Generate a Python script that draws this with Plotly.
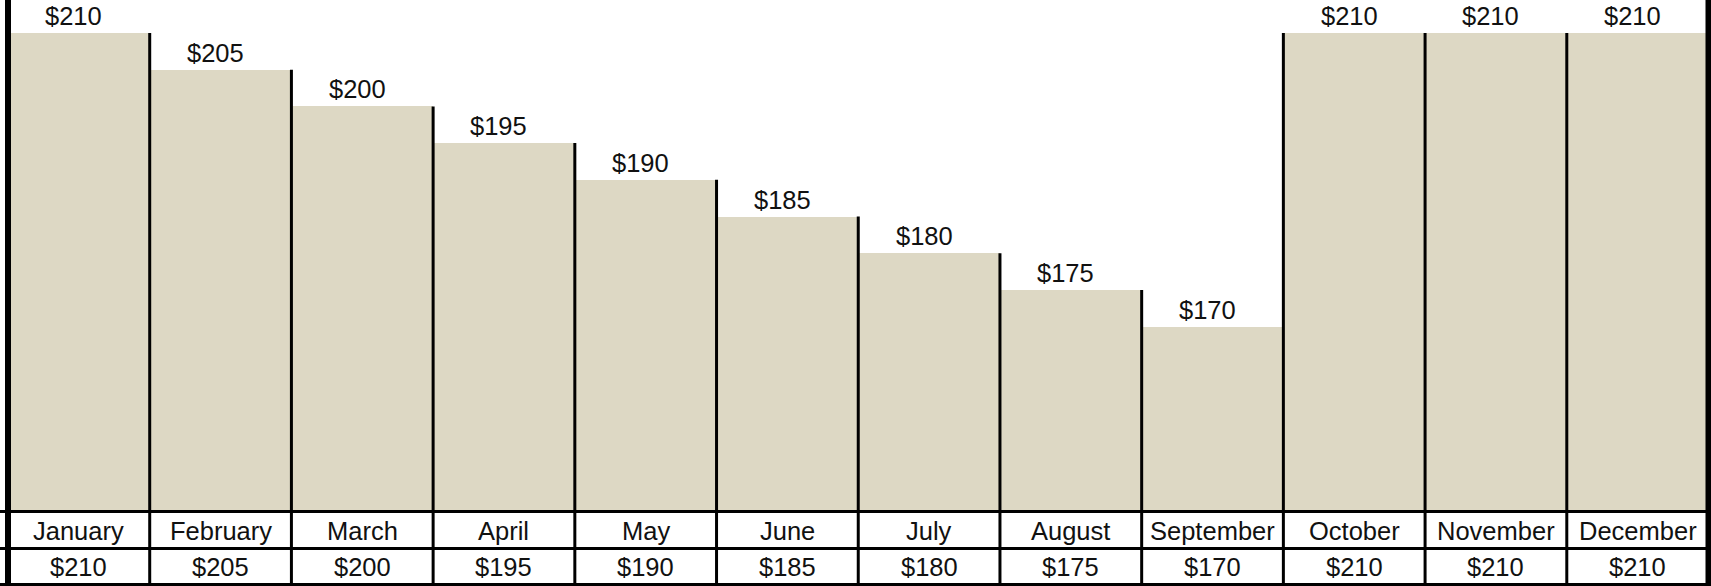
import plotly.graph_objects as go

months = ["January", "February", "March", "April", "May", "June", "July",
          "August", "September", "October", "November", "December"]
values = [210, 205, 200, 195, 190, 185, 180, 175, 170, 210, 210, 210]
value_labels = ["$%d" % v for v in values]

W, H = 1711, 586
BAR_COLOR = "#ddd8c4"
FONT = "Liberation Sans, Arial, sans-serif"
FS = 25.5

y_min, y_max = 145.04, 214.49
plot_bottom_px = 510
ydom0 = (H - plot_bottom_px) / H

fig = go.Figure()
fig.add_trace(go.Bar(
    x=list(range(len(months))), y=[v - y_min for v in values], base=y_min,
    width=1.0, marker=dict(color=BAR_COLOR, line=dict(width=0)),
    hoverinfo="skip", showlegend=False,
))

shapes = []
n = len(months)
# separators between bars (from taller neighbour's top to the bottom)
for i in range(1, n):
    top = max(values[i - 1], values[i])
    shapes.append(dict(type="line", xref="x", yref="y", x0=i - 0.5, x1=i - 0.5,
                       y0=y_min, y1=top, line=dict(color="black", width=3)))
# table vertical lines
for i in range(1, n):
    shapes.append(dict(type="line", xref="x", yref="paper", x0=i - 0.5, x1=i - 0.5,
                       y0=0, y1=ydom0, line=dict(color="black", width=3)))
# table horizontal lines
for ypx in [511.5, 548.5, 584.5]:
    shapes.append(dict(type="line", xref="paper", yref="paper", x0=0, x1=1,
                       y0=(H - ypx) / H, y1=(H - ypx) / H,
                       line=dict(color="black", width=3)))
# outer left/right borders
for xv in [-0.5, n - 0.5]:
    shapes.append(dict(type="line", xref="x", yref="paper", x0=xv, x1=xv,
                       y0=0, y1=1, line=dict(color="black", width=6)))

annotations = []
for i, (m, lab, v) in enumerate(zip(months, value_labels, values)):
    annotations.append(dict(x=i, y=v, xref="x", yref="y", text=lab, showarrow=False,
                            yanchor="bottom", xshift=-5, yshift=2, borderpad=0,
                            font=dict(family=FONT, size=FS, color="#111")))
    annotations.append(dict(x=i, y=(H - 531) / H, xref="x", yref="paper", text=m,
                            showarrow=False, yanchor="middle", borderpad=0,
                            font=dict(family=FONT, size=FS, color="#111")))
    annotations.append(dict(x=i, y=(H - 567) / H, xref="x", yref="paper", text=lab,
                            showarrow=False, yanchor="middle", borderpad=0,
                            font=dict(family=FONT, size=FS, color="#111")))

r0 = -0.5 - 8 / 141.71
r1 = 11.5 + 2.5 / 141.71
fig.update_layout(
    width=W, height=H, margin=dict(l=0, r=0, t=0, b=0),
    paper_bgcolor="white", plot_bgcolor="white",
    xaxis=dict(range=[r0, r1], visible=False, fixedrange=True),
    yaxis=dict(range=[y_min, y_max], domain=[ydom0, 1], visible=False, fixedrange=True),
    shapes=shapes, annotations=annotations, bargap=0,
)
fig.write_html("out.html", config={"displayModeBar": False},
               post_script="document.body.style.margin='0';document.body.style.overflow='hidden';")
